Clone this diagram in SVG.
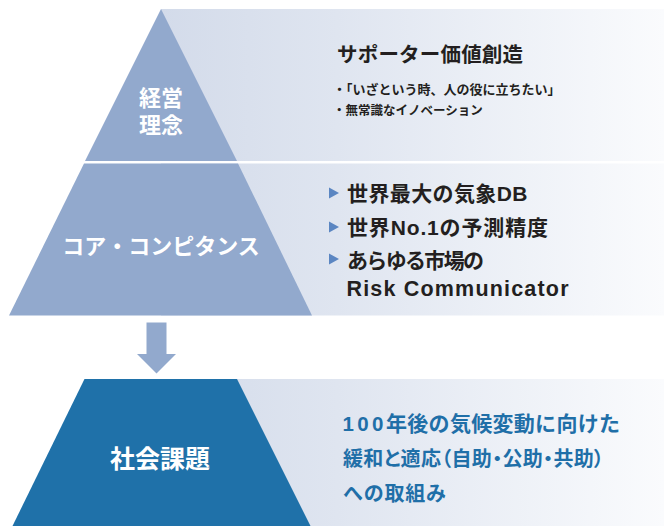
<svg xmlns="http://www.w3.org/2000/svg" width="664" height="526" viewBox="0 0 664 526">
  <defs>
    <linearGradient id="panelGrad" gradientUnits="userSpaceOnUse" x1="161" y1="0" x2="664" y2="0">
      <stop offset="0" stop-color="#d3dbea"/>
      <stop offset="0.35" stop-color="#dfe5f0"/>
      <stop offset="1" stop-color="#fafbfd"/>
    </linearGradient>
    <style>
      .panel { fill: url(#panelGrad); }
      .pale { fill: #92a9cd; }
      .deep { fill: #1f71a9; }
      .jp { font-family: "Liberation Sans", "Noto Sans CJK JP", sans-serif; font-weight: bold; }
      .lbl { fill: #ffffff; text-anchor: middle; }
      .dark { fill: #231f20; }
      .blue { fill: #1f6fa8; }
      .mark { fill: #5b86c2; }
    </style>
  </defs>
  <rect width="664" height="526" fill="#ffffff"/>

  <g id="philosophy">
    <rect class="panel" x="161" y="9" width="503" height="152"/>
    <polygon class="pale" points="161,9 237,161 85,161"/>
    <text class="jp lbl" font-size="22" x="161" y="106">経営</text>
    <text class="jp lbl" font-size="22" x="161" y="133">理念</text>
    <text class="jp dark" font-size="20.5" x="337" y="62" textLength="186" lengthAdjust="spacing">サポーター価値創造</text>
    <text class="jp dark" font-size="13" x="333" y="94">・「いざという時、人の役に立ちたい」</text>
    <text class="jp dark" font-size="12.5" x="333" y="115">・無常識なイノベーション</text>
  </g>

  <g id="core-competence">
    <rect class="panel" x="161" y="163.5" width="503" height="152"/>
    <polygon class="pale" points="84,163.5 238,163.5 312,315.5 9,315.5"/>
    <text class="jp lbl" font-size="22" x="161" y="254">コア・コンピタンス</text>
    <polygon class="mark" points="329,187.5 339,193 329,198.5"/>
    <polygon class="mark" points="329,221.5 339,227 329,232.5"/>
    <polygon class="mark" points="329,253.5 339,259 329,264.5"/>
    <text class="jp dark" font-size="21" x="347" y="201" textLength="180.5" lengthAdjust="spacing">世界最大の気象DB</text>
    <text class="jp dark" font-size="21" x="347" y="235" textLength="201" lengthAdjust="spacing">世界No.1の予測精度</text>
    <text class="jp dark" font-size="21" x="347" y="268" textLength="137" lengthAdjust="spacing">あらゆる市場の</text>
    <text class="jp dark" font-size="21.5" x="346.5" y="296" textLength="222" lengthAdjust="spacing">Risk Communicator</text>
  </g>

  <g id="connectors">
    <polygon class="pale" points="146.5,322.5 166.5,322.5 166.5,354 176,354 156.5,373.5 137,354 146.5,354"/>
  </g>

  <g id="social-issues">
    <rect class="panel" x="161" y="379" width="503" height="147"/>
    <polygon class="deep" points="84.5,379 237,379 310.5,526 12.5,526"/>
    <text class="jp lbl" font-size="25" x="160" y="468">社会課題</text>
    <text class="jp blue" font-size="20.5" y="430.5"><tspan x="342.5" letter-spacing="3.3">100</tspan><tspan x="386" font-size="21" textLength="234" lengthAdjust="spacing">年後の気候変動に向けた</tspan></text>
    <text class="jp blue" font-size="20" x="343" y="465.5" style="font-feature-settings:'palt'" textLength="261" lengthAdjust="spacing">緩和と適応（自助・公助・共助）</text>
    <text class="jp blue" font-size="20" x="343" y="500.5" textLength="103" lengthAdjust="spacing">への取組み</text>
  </g>
</svg>
